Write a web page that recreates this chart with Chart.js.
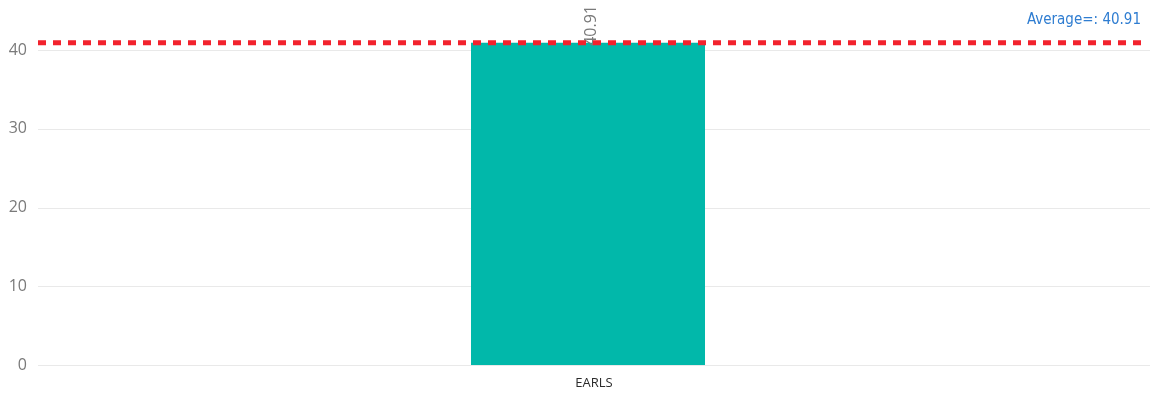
<!DOCTYPE html>
<html>
<head>
<meta charset="utf-8">
<script src="https://cdn.jsdelivr.net/npm/chart.js@4/dist/chart.umd.min.js"></script>
<style>
  html, body { margin: 0; padding: 0; background: #ffffff; }
  #wrap { position: relative; width: 1154px; height: 396px; }
</style>
</head>
<body>
<div id="wrap"><canvas id="chart"></canvas></div>
<script>
// Chart data
const categories = ["EARLS"];
const values = [40.91];
const averageValue = 40.91;
const averageLabel = "Average=: 40.91";
const yTickValues = [0, 10, 20, 30, 40];
const yAxisMax = 46.35;

// Horizontal grid lines, running a little past the plot's right edge
const gridLines = {
  id: 'gridLines',
  beforeDatasetsDraw(chart) {
    const ctx = chart.ctx;
    const area = chart.chartArea;
    const y = chart.scales.y;
    ctx.save();
    ctx.strokeStyle = '#e9e9e9';
    ctx.lineWidth = 1;
    y.ticks.forEach(t => {
      const py = Math.round(y.getPixelForValue(t.value)) + 0.5;
      ctx.beginPath();
      ctx.moveTo(area.left, py);
      ctx.lineTo(area.right + 12, py);
      ctx.stroke();
    });
    ctx.restore();
  }
};

// Rotated value label above each bar
const valueLabels = {
  id: 'valueLabels',
  afterDatasetsDraw(chart) {
    const ctx = chart.ctx;
    const meta = chart.getDatasetMeta(0);
    ctx.save();
    ctx.font = '16px "Open Sans", "DejaVu Sans", sans-serif';
    ctx.fillStyle = '#7a7a7a';
    meta.data.forEach((bar, i) => {
      ctx.save();
      ctx.translate(bar.x + 3, bar.y + 3);
      ctx.rotate(-Math.PI / 2);
      ctx.textAlign = 'left';
      ctx.textBaseline = 'middle';
      ctx.fillText(values[i].toFixed(2), 0, 0);
      ctx.restore();
    });
    ctx.restore();
  }
};

// Dashed average reference line with its caption
const averageLine = {
  id: 'averageLine',
  afterDraw(chart) {
    const ctx = chart.ctx;
    const area = chart.chartArea;
    const y = chart.scales.y.getPixelForValue(averageValue);
    ctx.save();
    ctx.strokeStyle = '#f2222d';
    ctx.lineWidth = 5;
    ctx.setLineDash([8, 7]);
    ctx.beginPath();
    ctx.moveTo(area.left, y);
    ctx.lineTo(area.right + 5, y);
    ctx.stroke();
    ctx.setLineDash([]);
    ctx.font = '500 15px "Liberation Sans Narrow", "DejaVu Sans Condensed", sans-serif';
    ctx.fillStyle = '#2f7dd1';
    ctx.textAlign = 'right';
    ctx.textBaseline = 'alphabetic';
    ctx.fillText(averageLabel, area.right + 3, y - 19);
    ctx.restore();
  }
};

new Chart(document.getElementById('chart'), {
  type: 'bar',
  data: {
    labels: categories,
    datasets: [{
      data: values,
      backgroundColor: '#01b8aa',
      borderWidth: 0,
      categoryPercentage: 0.42,
      barPercentage: 0.5065
    }]
  },
  options: {
    responsive: true,
    maintainAspectRatio: false,
    animation: false,
    layout: { padding: { top: 0, right: 16, bottom: 0, left: 0 } },
    plugins: { legend: { display: false }, tooltip: { enabled: false } },
    scales: {
      x: {
        grid: { display: false, drawTicks: false },
        border: { display: false },
        afterFit(scale) {
          scale.height = 31;
          scale.paddingLeft = 0;
          scale.paddingRight = 0;
        },
        ticks: {
          color: '#2b2b2b',
          padding: 10,
          labelOffset: 6,
          font: { family: '"Open Sans", "DejaVu Sans", sans-serif', size: 13 }
        }
      },
      y: {
        min: 0,
        max: yAxisMax,
        afterBuildTicks(scale) {
          scale.ticks = yTickValues.map(v => ({ value: v }));
        },
        afterFit(scale) {
          scale.width = 38;
          scale.paddingTop = 0;
          scale.paddingBottom = 0;
        },
        grid: { display: false, drawTicks: false },
        border: { display: false },
        ticks: {
          color: '#7a7a7a',
          padding: 11,
          font: { family: '"Open Sans", "DejaVu Sans", sans-serif', size: 16 }
        }
      }
    }
  },
  plugins: [gridLines, valueLabels, averageLine]
});
</script>
</body>
</html>
